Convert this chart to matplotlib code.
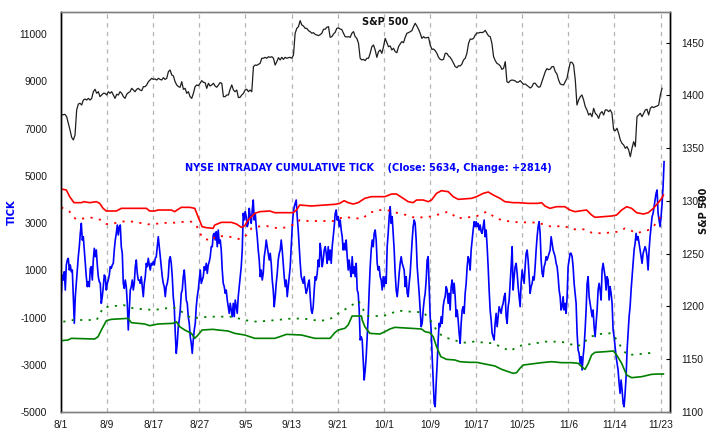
import numpy as np
import matplotlib
matplotlib.use("Agg")
import matplotlib.pyplot as plt

# ---------------- data ----------------
date_labels = ["8/1", "8/9", "8/17", "8/27", "9/5", "9/13", "9/21", "10/1",
               "10/9", "10/17", "10/25", "11/6", "11/14", "11/23"]
label_days = [0, 6, 12, 18, 24, 30, 36, 42, 48, 54, 60, 66, 72, 78]

tick_left_values = [11000, 9000, 7000, 5000, 3000, 1000, -1000, -3000, -5000]
tick_right_values = [1100, 1150, 1200, 1250, 1300, 1350, 1400, 1450]

tick_start_day, tick_end_day = 0.04, 78.45
tick_values = [
    # Aug 1 - Aug 27
    23, 799, 587, 940, 164, 1222, 1434, 1504, 1010, 1222, 940, 1010, -118, -1247, -118, 446,
    1010, 1575, 1998, 2562, 2986, 2280, 2421, 1857, 1293, 728, 305, 516, 305, 1081, 1152, 587,
    1434, 1927, 1575, 1857, 1222, 728, 516, 446, -401, -118, 305, 799, 728, 164, 446, 587, 799,
    1152, 1081, 1222, 1293, 1857, 2280, 2562, 2915, 2492, 2845, 2915, 1998, 1716, 446, 234, 587,
    305, -401, -1529, -683, 164, 305, 587, 164, 446, 1152, 1434, 869, 587, 587, 446, 728, 305,
    -118, 446, 728, 1293, 1152, 1504, 1222, 1010, 1293, 1222, 1363, 1222, 1504, 1575, 1998, 2421,
    1998, 1575, 1152, 728, 446, 305, -118, 305, 446, 728, 1434, 1575, 1293, 728, -118, -542,
    -1671, -2517, -2094, -1388, -1106, -683, 23, 164, 728, 1010, 446, -260, -401, -965, -1247,
    -1812, -2094, -2517, -1953, -1529, -1247, -542, -118, 164, 587, 1010, 446, 587, 728, 1152,
    1010, 1293, 869, 1222, 1363, 1575, 1998,
    # Aug 27 - Sep 28
    1998, 2492, 2562, 2280, 2633, 1998, 2704, 2139, 2280, 1857, 1010, 446, 305, 23, 164, -260,
    -542, -824, -401, -683, -965, -401, -965, -260, -542, -824, -118, 305, 728, 1152, 1857, 3409,
    3127, 3480, 3268, 2845, 2986, 3621, 3268, 2986, 3550, 3974, 3127, 3409, 2845, 2421, 1857,
    1434, 728, 1010, 587, 869, 1575, 1857, 2280, 1998, 1716, 1434, 1716, 1293, 587, 164, -542,
    -118, 446, 869, 1434, 1716, 1857, 2280, 1857, 1293, 728, 305, 587, -118, 305, 728, 1152,
    1998, 2845, 3409, 3691, 3832, 3974, 3268, 2704, 1998, 1293, 728, 587, 446, 728, 305, 23, 164,
    446, 587, -118, -683, -824, -542, 164, 728, 587, 869, 1434, 1152, 2139, 1716, 1152, 1434,
    1857, 1998, 1716, 1293, 1998, 1434, 1857, 1293, 1998, 2421, 2845, 3409, 3550, 3127, 3268,
    2845, 3127, 2704, 2421, 1857, 2139, 1857, 2280, 1575, 1010, 1434, 1010, 728, 1575, 869, 1152,
    728, 1293, 164, 23, -683, -1953, -1812,
    # Sep 28 - Oct 29
    -1953, -2799, -3646, -3223, -2658, -1812, -965, 164, 1152, 1857, 2280, 1998, 2562, 2704,
    2280, 1293, 1010, 1152, 728, 587, 164, 728, 305, 728, 446, 1998, 2562, 3268, 3691, 2986,
    3268, 2562, 1857, 869, 164, -118, 305, 869, 1293, 1575, 1293, 1152, 1010, 305, 728, 23, -118,
    446, 869, 1575, 2280, 2845, 3127, 2986, 2280, 1152, 587, 23, -683, -1388, -1247, -683, -260,
    23, 587, 1434, 1575, 305, -965, -1529, -2658, -3646, -4634, -4775, -3787, -2940, -1953,
    -1247, -1388, -965, -1247, -542, -260, -118, 305, 164, -401, 23, -683, 305, 587, 23, 446,
    -118, -965, -683, -1106, -1671, -2094, -1247, -683, -542, -824, 23, 446, 1152, 1575, 1434,
    1010, 1857, 2280, 2704, 3056, 2845, 3056, 2845, 2986, 2704, 2915, 2633, 2562, 2845, 3127,
    2421, 2704, 1998, 1152, 164, -683, -1106, -1671, -1812, -1953, -1247, -824, -1388, -965,
    -542, -683, -824, -542, -401, -118, 23, -965, -1247, -542, -260, 446, 1152, 1998,
    # Oct 29 - Nov 23
    164, 728, 1152, 1293, 869, 305, -118, -542, 446, 1010, 728, 446, 1152, 1716, 1857, 1434,
    728, 23, 305, 446, 728, 587, 1152, 1857, 2421, 2845, 3056, 2562, 1434, 869, 728, 1152,
    1293, 1575, 1434, 1575, 1716, 1857, 2421, 2139, 1857, 1716, 1575, 1293, 1152, 728, 164,
    -118, -683, -542, -118, -683, -401, -824, -118, 1152, 1434, 1716, 1716, 1575, 1152, 446,
    23, -401, -1671, -2376, -2517, -2940, -2658, -3223, -2658, -2235, -1529, -683, 446, 728,
    -118, -401, -683, -965, -683, -1388, -1812, -1247, -683, 164, 446, 164, -260, 1010, 1293,
    1010, 728, 164, 728, 587, -260, 305, 23, -401, -1529, -1812, -2235, -2658, -2940, -3223,
    -3787, -4210, -3646, -4069, -4634, -4775, -4210, -3505, -2376, -1671, -965, -542, 164, 728,
    1293, 1857, 2139, 2562, 2280, 2421, 2139, 1857, 1575, 1293, 1716, 1857, 1998, 1857, 1575,
    1010, 1857, 2421, 2845, 3268, 3409, 3691, 3974, 4256, 4397, 3409, 3127, 2845, 3268, 3832,
    4538, 5596,
]

spx_start_day, spx_end_day = 0.087, 78.18
spx_values = [
    1381.4, 1381.7, 1382.0, 1379.8, 1373.5, 1367.2, 1360.2, 1357.7, 1362.4, 1386.2, 1391.8,
    1392.5, 1390.9, 1395.6, 1396.6, 1395.6, 1397.2, 1395.6, 1397.2, 1403.5, 1405.8, 1402.0,
    1403.5, 1398.8, 1400.4, 1402.0, 1402.0, 1400.4, 1403.5, 1402.0, 1403.5, 1400.4, 1397.2,
    1401.0, 1400.4, 1403.5, 1402.0, 1398.8, 1397.2, 1401.0, 1402.6, 1403.5, 1406.7, 1405.1,
    1403.5, 1405.8, 1406.7, 1405.1, 1404.5, 1408.3, 1408.3, 1409.9, 1413.0, 1414.6, 1416.2,
    1415.2, 1415.6, 1414.6, 1416.2, 1415.2, 1414.6, 1416.8, 1415.2, 1416.2, 1422.5, 1424.1,
    1419.4, 1418.4, 1413.0, 1409.9, 1408.3, 1407.7, 1413.0, 1405.8, 1406.7, 1402.0, 1403.5,
    1398.8, 1397.2, 1402.0, 1408.3, 1409.9, 1409.2, 1411.5, 1414.0, 1412.4, 1412.1, 1406.7,
    1411.5, 1408.9, 1409.9, 1411.5, 1408.9, 1407.7, 1409.9, 1412.1, 1411.5, 1398.8, 1398.8,
    1400.4, 1400.4, 1405.8, 1409.9, 1405.1, 1403.5, 1405.1, 1397.9, 1398.2, 1400.4, 1402.0,
    1405.1, 1405.8, 1403.5, 1405.1, 1403.5, 1427.3, 1428.8, 1428.5, 1429.5, 1430.4, 1435.2,
    1435.2, 1436.1, 1435.2, 1436.7, 1436.1, 1436.7, 1435.2, 1428.8, 1432.0, 1435.8, 1433.6,
    1436.1, 1434.2, 1436.1, 1435.2, 1435.8, 1436.1, 1435.2, 1438.3, 1458.9, 1463.6, 1465.2,
    1470.9, 1466.8, 1465.8, 1463.6, 1463.6, 1461.4, 1460.5, 1458.9, 1459.5, 1457.9, 1457.3,
    1456.7, 1457.6, 1458.9, 1462.7, 1462.7, 1464.6, 1465.2, 1455.1, 1455.7, 1458.2, 1459.8,
    1463.6, 1464.0, 1463.0, 1462.4, 1458.9, 1455.7, 1455.4, 1455.7, 1455.1, 1458.9, 1460.5,
    1455.7, 1454.1, 1449.4,
    1435.2, 1433.6, 1434.2, 1433.0, 1435.2, 1435.2, 1439.9, 1446.2, 1447.8, 1443.1, 1436.1,
    1441.5, 1443.1, 1439.9, 1446.2, 1454.1, 1450.0, 1446.2, 1446.9, 1443.1, 1444.7, 1441.5,
    1440.5, 1446.2, 1448.8, 1451.0, 1450.0, 1455.1, 1458.9, 1459.5, 1460.5, 1461.4, 1465.2,
    1468.4, 1465.8, 1462.7, 1458.9, 1454.1, 1455.7, 1454.5, 1454.8, 1455.1, 1447.8, 1443.7,
    1444.0, 1442.4, 1439.9, 1436.1, 1434.2, 1433.6, 1434.2, 1439.9, 1439.9, 1437.4, 1436.1,
    1433.6, 1430.4, 1427.3, 1426.3, 1428.2, 1427.9, 1429.8, 1433.6, 1435.2, 1439.9, 1449.4,
    1453.5, 1453.2, 1454.1, 1457.3, 1459.2, 1459.2, 1459.8, 1459.5, 1460.1, 1461.7, 1458.9,
    1456.4, 1455.7, 1449.4, 1436.7, 1433.0, 1430.4, 1429.5, 1427.9, 1424.7, 1425.7, 1432.0,
    1413.0, 1412.1, 1414.0, 1414.6, 1414.3, 1413.7, 1412.4, 1412.7, 1414.0, 1412.1, 1410.5,
    1410.8, 1409.5, 1408.3, 1407.0, 1408.3, 1411.5, 1411.5, 1409.2, 1407.7, 1408.3, 1413.0,
    1417.8, 1422.5, 1425.4, 1424.4, 1425.0, 1427.3, 1427.3, 1422.5, 1420.3, 1414.6, 1410.8,
    1410.2, 1409.9, 1413.0, 1416.2, 1424.1, 1431.4, 1431.4, 1428.8, 1414.6, 1390.9, 1395.6,
    1398.8, 1400.4, 1395.6, 1389.3, 1386.2, 1381.4, 1383.0, 1379.8, 1387.7, 1383.0, 1381.4,
    1378.2, 1383.0, 1384.6, 1381.4, 1386.2, 1386.2, 1384.6, 1386.2, 1383.0, 1367.2, 1366.5,
    1368.8, 1364.0, 1357.7, 1354.5, 1353.0, 1349.8, 1351.4, 1348.2, 1341.9, 1349.8, 1356.1,
    1351.4, 1379.8, 1381.4, 1383.0, 1379.8, 1383.0, 1386.2, 1386.8, 1381.4, 1387.7, 1389.3,
    1388.4, 1389.3, 1389.9, 1390.9, 1400.4, 1406.7,
]

upper_days = [0.04, 0.69, 1.13, 1.69, 2.65, 2.99, 3.73, 4.60, 5.03, 5.47, 5.90, 7.20, 7.85,
              9.15, 11.11, 11.54, 12.19, 12.62, 14.36, 14.79, 15.23, 15.66, 16.75, 17.40,
              17.83, 18.35, 18.92, 19.78, 20.0, 20.87, 22.17, 22.82, 23.47, 23.9, 24.34,
              25.21, 25.86, 27.16, 27.81, 30.20, 30.63, 31.06, 32.58, 34.32, 35.62, 36.27,
              36.83, 37.35, 38.00, 38.65, 39.52, 40.39, 42.13, 43.0, 43.64, 44.51, 45.16,
              45.81, 46.25, 47.11, 47.77, 48.20, 48.85, 49.5, 50.37, 51.02, 51.67, 53.41,
              54.06, 54.93, 55.58, 56.23, 57.1, 57.74, 58.83, 59.48, 60.78, 62.08, 62.52,
              62.95, 63.60, 64.47, 65.55, 66.20, 66.85, 67.72, 68.37, 69.02, 69.46, 70.54,
              71.63, 72.28, 72.93, 73.58, 74.23, 74.88, 75.75, 76.4, 77.05, 77.62, 78.14, 78.36]
upper_values = [4439, 4397, 4115, 3861, 3861, 3903, 3861, 3903, 3832, 3621, 3508, 3508, 3621,
                3621, 3621, 3508, 3508, 3550, 3550, 3480, 3578, 3663, 3663, 3621, 3268, 2845,
                2802, 2774, 2915, 3028, 3028, 2958, 2817, 2887, 3127, 3409, 3480, 3508, 3437,
                3437, 3550, 3762, 3720, 3762, 3790, 3832, 3945, 3861, 3804, 3861, 4044, 4115,
                4115, 4227, 4227, 4044, 3903, 3861, 3974, 3974, 3903, 3974, 4256, 4369, 4326,
                4115, 4002, 4044, 4115, 4256, 4312, 4185, 4044, 3903, 3861, 3861, 3832, 3832,
                3861, 3720, 3621, 3691, 3691, 3550, 3480, 3522, 3550, 3339, 3240, 3268, 3296,
                3339, 3550, 3691, 3621, 3437, 3381, 3437, 3621, 3832, 4044, 4185]

upper_dot_days = [0.04, 1.13, 1.56, 2.0, 3.08, 3.95, 5.25, 5.90, 6.55, 7.85, 8.72, 10.67,
                  11.32, 12.19, 12.84, 13.93, 14.79, 16.10, 16.96, 17.61, 18.05, 18.70, 19.78,
                  20.0, 21.3, 22.6, 23.26, 24.12, 24.77, 25.43, 26.73, 28.24, 29.36, 30.63,
                  31.06, 32.15, 34.53, 35.4, 36.27, 36.92, 37.57, 38.43, 39.31, 39.96, 41.26,
                  42.99, 43.86, 44.95, 45.60, 46.25, 47.35, 47.98, 48.85, 50.37, 51.02, 51.45,
                  53.84, 54.49, 55.36, 56.0, 56.66, 57.31, 57.96, 58.83, 59.48, 60.78, 62.08,
                  62.95, 63.82, 65.12, 65.99, 66.85, 68.16, 69.02, 70.33, 72.5, 73.36, 74.01,
                  74.88, 75.53, 76.4, 77.05, 77.70, 78.14]
upper_dot_values = [3663, 3480, 3268, 3155, 3198, 3226, 3127, 2958, 2958, 3056, 3085, 2986,
                    2944, 2958, 2986, 3014, 3014, 3056, 3056, 2915, 2562, 2309, 2280, 2421,
                    2450, 2379, 2309, 2492, 2774, 2845, 2873, 2774, 2817, 2986, 3127, 3085,
                    3085, 3085, 3198, 3268, 3226, 3198, 3198, 3409, 3550, 3522, 3409, 3339,
                    3268, 3198, 3268, 3268, 3339, 3480, 3339, 3198, 3268, 3339, 3480, 3339,
                    3198, 3127, 3085, 3056, 3028, 3028, 3014, 2915, 2845, 2873, 2817, 2732,
                    2732, 2591, 2562, 2633, 2774, 2704, 2562, 2633, 2704, 2845, 3127, 3339]

lower_days = [0.04, 0.91, 1.34, 4.38, 4.82, 5.25, 5.90, 6.55, 8.72, 9.15, 10.89, 11.54, 12.62,
              14.58, 15.01, 15.44, 16.10, 16.96, 17.40, 17.83, 18.35, 19.78, 20.43, 21.74,
              22.6, 23.9, 25.21, 27.81, 28.46, 29.33, 31.28, 32.15, 33.02, 35.0, 35.62, 36.05,
              36.92, 37.35, 37.87, 39.09, 39.18, 39.52, 40.17, 41.48, 42.13, 42.78, 43.43,
              45.6, 46.9, 47.35, 47.98, 48.42, 48.85, 49.41, 50.15, 51.24, 51.89, 53.19, 54.06,
              54.71, 56.45, 57.31, 58.18, 58.83, 59.26, 59.7, 60.13, 62.52, 63.82, 65.12, 66.42,
              67.29, 67.72, 68.16, 68.59, 69.02, 69.46, 70.76, 71.85, 72.28, 72.93, 73.58,
              74.23, 75.53, 76.83, 77.7, 78.36]
lower_values = [-1981, -1953, -1882, -1910, -1812, -1529, -1134, -1078, -1036, -1219, -1275,
                -1346, -1275, -1247, -1177, -1388, -1529, -1671, -1882, -1741, -1529, -1501,
                -1529, -1572, -1671, -1741, -1882, -1882, -1812, -1713, -1741, -1812, -1882,
                -1882, -1642, -1529, -1459, -1318, -937, -937, -1106, -1388, -1671, -1699,
                -1600, -1487, -1417, -1459, -1487, -1600, -1642, -1812, -2235, -2658, -2771,
                -2799, -2870, -2898, -2898, -2940, -3053, -3194, -3293, -3364, -3335, -3152,
                -3011, -2912, -2870, -2912, -2912, -2940, -3082, -3194, -2940, -2588, -2475,
                -2447, -2418, -2588, -2940, -3434, -3547, -3505, -3406, -3392, -3392]

lower_dot_days = [0.30, 1.61, 4.64, 5.51, 8.11, 9.41, 12.02, 14.62, 15.49, 17.0, 19.18, 22.43,
                  23.73, 25.47, 28.07, 30.24, 31.97, 33.71, 35.01, 35.88, 37.18, 38.70, 39.78,
                  41.95, 43.9, 45.42, 47.16, 48.03, 49.11, 49.98, 51.06, 52.37, 53.67, 56.27,
                  57.14, 58.44, 59.53, 63.0, 64.95, 66.03, 67.12, 67.98, 68.85, 70.15, 71.45,
                  71.89, 72.54, 73.62, 74.93, 76.23, 77.31]
lower_dot_values = [-1177, -1106, -1106, -570, -471, -612, -683, -570, -711, -1036, -965,
                    -965, -1106, -1177, -1106, -1036, -1064, -1148, -1064, -866, -612, -302,
                    -937, -937, -711, -753, -781, -1106, -1670, -1840, -1953, -2066, -2023,
                    -2094, -2235, -2418, -2207, -2023, -2023, -2094, -2235, -2066, -1812,
                    -1699, -1670, -1741, -2094, -2588, -2559, -2517, -2475]

close_value = 5634
change_value = 2814

# ---------------- figure ----------------
W, H = 721, 441
fig = plt.figure(figsize=(W / 100, H / 100), dpi=100)
fig.patch.set_facecolor("white")
ax = fig.add_axes([61 / W, (H - 412) / H, (670 - 61) / W, 400 / H])
ax2 = ax.twinx()

txt_color = "#1a1a1a"
tick_font = dict(family="Liberation Sans", size=7.4)

tick_x = np.linspace(tick_start_day, tick_end_day, len(tick_values))
spx_x = np.linspace(spx_start_day, spx_end_day, len(spx_values))

ax.plot(tick_x, tick_values, color="#0000ff", lw=1.2, zorder=3)
ax.plot(upper_days, upper_values, color="#ff0000", lw=1.2, zorder=4)
ax.plot(upper_dot_days, upper_dot_values, color="#ff0000", lw=1.3,
        linestyle=(0, (1.2, 3.5)), zorder=4)
ax.plot(lower_days, lower_values, color="#008000", lw=1.2, zorder=4)
ax.plot(lower_dot_days, lower_dot_values, color="#008000", lw=1.3,
        linestyle=(0, (1.2, 3.5)), zorder=4)

ax2.plot(spx_x, spx_values, color="#1e1e1e", lw=0.9)

ax.set_xlim(0, 79.22)
ax.set_ylim(-5000, 11932)
ax2.set_ylim(1099.7, 1479.1)

for d in label_days[1:]:
    ax.axvline(d, color="#b4b4b4", lw=0.9, linestyle=(0, (3.5, 3.5)), zorder=1)

ax.set_xticks(label_days)
ax.set_xticklabels(date_labels, color=txt_color, **tick_font)
ax.set_yticks(tick_left_values)
ax.set_yticklabels([str(v) for v in tick_left_values], color=txt_color, **tick_font)
ax.tick_params(axis="x", length=0, pad=6)
ax.tick_params(axis="y", length=0, pad=10)

ax2.set_yticks(tick_right_values)
ax2.set_yticklabels([str(v) for v in tick_right_values], color=txt_color, **tick_font)
ax2.tick_params(axis="y", direction="in", length=3, width=0.8, pad=8, color="#000000")

for a in (ax, ax2):
    a.spines["left"].set_color("#000000")
    a.spines["right"].set_color("#000000")
    a.spines["top"].set_color("#808080")
    a.spines["bottom"].set_color("#808080")
    for s in a.spines.values():
        s.set_linewidth(1.0)

ax.text((362 - 61) / 609, (412 - 22) / 400, "S&P 500", transform=ax.transAxes,
        ha="left", va="center", fontsize=7, fontweight="bold", family="DejaVu Sans",
        color="#111111", zorder=6)
ax.text((185 - 61) / 609, (412 - 168) / 400,
        "NYSE INTRADAY CUMULATIVE TICK    (Close: %d, Change: +%d)" % (close_value, change_value),
        transform=ax.transAxes, ha="left", va="center", fontsize=7.0, fontweight="bold",
        family="DejaVu Sans", color="#0000ff", zorder=6)

fig.text(12 / W, 1 - 212 / H, "TICK", rotation=90, ha="center", va="center",
         fontsize=7.3, fontweight="bold", family="DejaVu Sans", color="#0000ff")
fig.text(704 / W, 1 - 211 / H, "S&P 500", rotation=90, ha="center", va="center",
         fontsize=7, fontweight="bold", family="DejaVu Sans", color="#111111")

fig.savefig("out.png", dpi=100, facecolor="white")
